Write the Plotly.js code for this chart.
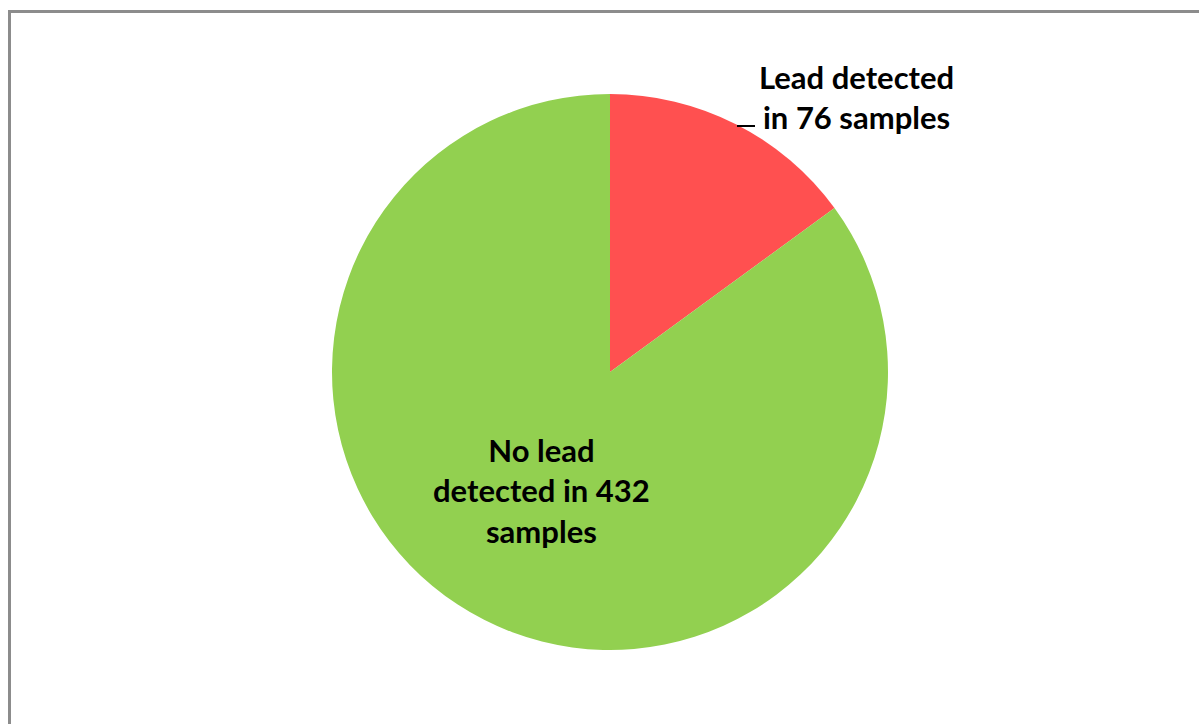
<!DOCTYPE html>
<html>
<head>
<meta charset="utf-8">
<script src="https://cdn.plot.ly/plotly-3.0.1.min.js"></script>
<style>
html,body{margin:0;padding:0;background:#fff;}
#chart{width:1199px;height:724px;}
</style>
</head>
<body>
<div id="chart"></div>
<script>
const categories = ["Lead detected", "No lead detected"];
const sampleCounts = [76, 432];
const sliceColors = ["#FF5050", "#92D050"];
const labelTexts = [
  "Lead detected<br>in " + sampleCounts[0] + " samples",
  "No lead<br>detected in " + sampleCounts[1] + "<br>samples"
];

const W = 1199, H = 724;
const px = x => x / W;
const py = y => 1 - y / H;

const trace = {
  type: "pie",
  labels: categories,
  values: sampleCounts,
  sort: false,
  direction: "clockwise",
  rotation: 0,
  marker: {colors: sliceColors, line: {width: 0}},
  textinfo: "none",
  hoverinfo: "label+value",
  showlegend: false,
  domain: {x: [px(331), px(889)], y: [py(650), py(94)]}
};

const labelFont = {family: "Lato, 'Open Sans', sans-serif", size: 31, color: "#000000", weight: "bold"};

const layout = {
  width: W, height: H,
  margin: {l: 0, r: 0, t: 0, b: 0},
  paper_bgcolor: "#ffffff",
  showlegend: false,
  shapes: [
    {type: "rect", xref: "paper", yref: "paper",
     x0: px(9.5), x1: 1.05, y0: -0.05, y1: py(11.5),
     line: {color: "#8c8c8c", width: 3}},
    {type: "line", xref: "paper", yref: "paper",
     x0: px(737), x1: px(755), y0: py(126), y1: py(126),
     line: {color: "#000000", width: 2}}
  ],
  annotations: [
    {xref: "paper", yref: "paper", x: px(856), y: py(97), text: labelTexts[0],
     showarrow: false, xanchor: "center", yanchor: "middle", align: "center", font: labelFont},
    {xref: "paper", yref: "paper", x: px(541), y: py(490), text: labelTexts[1],
     showarrow: false, xanchor: "center", yanchor: "middle", align: "center", font: labelFont}
  ]
};

Plotly.newPlot("chart", [trace], layout, {displayModeBar: false, staticPlot: true});
</script>
</body>
</html>
